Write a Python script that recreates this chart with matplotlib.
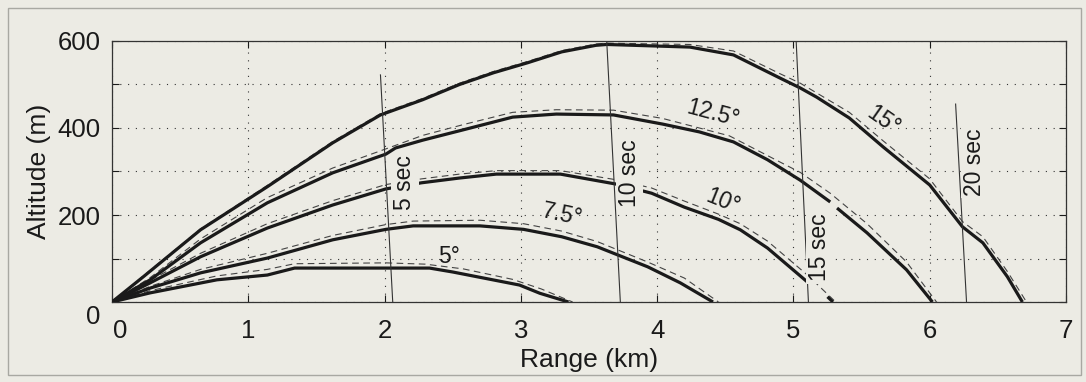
import numpy as np
import matplotlib
matplotlib.use('Agg')
import matplotlib.pyplot as plt
import matplotlib.transforms as mtransforms
from matplotlib.patches import Rectangle

plt.rcParams['font.family'] = ['Liberation Sans', 'DejaVu Sans']

BG = '#ecebe4'
INK = '#1a1a1a'
nan = np.nan

# ── trajectories (range km, altitude m), NaN = break in the printed line ──
x_5 = [0, 0.28, 0.77, 1.14, 1.34, 2.01, 2.33, 2.50, 2.99, 3.14, 3.35]
y_5 = [0, 21, 51, 62, 78, 78, 78, 69, 39, 20, 0]
x_5d = [0, 0.28, 0.77, 1.14, 1.34, 2.01, 2.30, 2.58, 2.94, 3.15, 3.38]
y_5d = [0, 26, 60, 75, 88, 90, 87, 76, 52, 30, 0]

x_75 = [0, 0.28, 0.65, 1.14, 1.62, 2.01, 2.21, 2.70, 3.02, 3.30, 3.56, 3.93, 4.17, 4.41]
y_75 = [0, 32, 67, 101, 143, 167, 175, 175, 167, 150, 127, 81, 44, 0]
x_75d = [0, 0.28, 0.65, 1.14, 1.62, 2.01, 2.21, 2.70, 3.02, 3.30, 3.56, 3.93, 4.20, 4.45]
y_75d = [0, 36, 75, 112, 153, 178, 186, 188, 180, 163, 139, 92, 55, 0]

x_10 = [0, 0.28, 0.65, 1.14, 1.62, 2.01, 2.27, 2.55, 2.82, 3.29, 3.70, 3.96, 4.20, 4.45, 4.61, 4.81, 5.11, nan, 5.25, 5.29]
y_10 = [0, 44, 104, 170, 223, 260, 274, 285, 294, 294, 271, 250, 218, 190, 166, 124, 44, nan, 12, 0]
x_10d = [0, 0.28, 0.65, 1.14, 1.62, 2.01, 2.27, 2.55, 2.82, 3.29, 3.70, 3.96, 4.20, 4.45, 4.61, 4.81, 5.11, 5.31]
y_10d = [0, 50, 112, 180, 233, 270, 283, 294, 302, 302, 281, 262, 232, 202, 180, 140, 60, 0]

x_125 = [0, 0.28, 0.65, 1.14, 1.62, 2.01, 2.08, 2.28, 2.58, 2.94, 3.26, 3.68, 4.04, 4.31, 4.56, 4.81, 5.05, 5.27, nan, 5.32, 5.54, 5.83, 6.02]
y_125 = [0, 51, 136, 228, 297, 340, 354, 372, 396, 425, 432, 430, 409, 391, 368, 327, 280, 230, nan, 216, 159, 74, 0]
x_125d = [0, 0.28, 0.65, 1.14, 1.62, 2.01, 2.28, 2.58, 2.94, 3.26, 3.68, 4.04, 4.53, 4.90, 5.05, 5.27, 5.54, 5.83, 6.05]
y_125d = [0, 56, 145, 240, 308, 352, 383, 408, 436, 442, 441, 422, 382, 322, 298, 250, 180, 92, 0]

x_15 = [0, 0.23, 0.65, 1.14, 1.62, 1.97, 2.28, 2.55, 2.80, 3.05, 3.30, 3.55, 3.63, 4.24, 4.56, 4.90, 5.05, 5.17, 5.41, 5.66, 6.00, 6.24, 6.39, 6.57, 6.68]
y_15 = [0, 58, 166, 265, 366, 430, 465, 500, 527, 550, 575, 590, 592, 586, 568, 515, 492, 471, 423, 356, 269, 173, 136, 58, 0]
x_15d = [0, 0.23, 0.65, 1.14, 1.62, 1.97, 2.28, 2.55, 2.80, 3.05, 3.30, 3.55, 3.63, 4.24, 4.56, 4.90, 5.05, 5.41, 5.66, 6.00, 6.24, 6.39, 6.57, 6.71]
y_15d = [0, 60, 168, 268, 369, 433, 468, 503, 530, 553, 578, 593, 595, 592, 577, 525, 503, 436, 370, 283, 185, 150, 70, 0]

# ── time-of-flight lines ──
t_labels = ['5 sec', '10 sec', '15 sec', '20 sec']
t_x = [[1.97, 2.06], [3.63, 3.73], [5.02, 5.11], [6.19, 6.27]]
t_y = [[522, 0], [600, 0], [600, 0], [455, 0]]
t_lab_x = [2.15, 3.80, 5.19, 6.33]
t_lab_y = [274, 296, 125, 321]

angle_labels = ['5°', '7.5°', '10°', '12.5°', '15°']
angle_lab_x = [2.47, 3.30, 4.48, 4.41, 5.66]
angle_lab_y = [104, 200, 230, 434, 418]
angle_lab_rot = [0, -12, -22, -15, -35]

fig = plt.figure(figsize=(10.86, 3.82), dpi=100, facecolor=BG)
ax = fig.add_axes([0.1031, 0.2094, 0.8785, 0.6833], facecolor=BG)

fig.patches.append(Rectangle((0.007, 0.018), 0.988, 0.962, transform=fig.transFigure,
                             fill=False, edgecolor='#a8a8a2', linewidth=1.0))

solid = [(x_5, y_5), (x_75, y_75), (x_10, y_10), (x_125, y_125), (x_15, y_15)]
dashed = [(x_5d, y_5d), (x_75d, y_75d), (x_10d, y_10d), (x_125d, y_125d), (x_15d, y_15d)]

for xs, ys in dashed:
    ax.plot(xs, ys, color='#444444', lw=0.8, ls=(0, (6, 4)), zorder=2)
for xs, ys in solid:
    ax.plot(xs, ys, color=INK, lw=2.3, solid_capstyle='butt', zorder=3)

for xs, ys in zip(t_x, t_y):
    ax.plot(xs, ys, color='#333333', lw=0.8, zorder=4)

for lab, lx, ly in zip(t_labels, t_lab_x, t_lab_y):
    ax.text(lx, ly, lab, rotation=90, ha='center', va='center', fontsize=16.5,
            color=INK, zorder=5,
            bbox=dict(facecolor=BG, edgecolor='none', pad=1.5))

for lab, lx, ly, rot in zip(angle_labels, angle_lab_x, angle_lab_y, angle_lab_rot):
    ax.text(lx, ly, lab, rotation=rot, rotation_mode='anchor', ha='center', va='center',
            fontsize=16.5, color=INK, zorder=5)

ax.set_xlim(0, 7)
ax.set_ylim(0, 600)
ax.set_xticks(range(0, 8))
ax.set_yticks(range(0, 601, 100))
ax.set_yticklabels(['0', '', '200', '', '400', '', '600'])
ax.grid(True, color='#333333', lw=0.8, ls=(0, (1, 6)))
ax.tick_params(direction='in', top=True, right=True, length=5, width=0.8,
               labelsize=18.5, colors=INK)
ax.tick_params(axis='x', pad=12)
ax.tick_params(axis='y', pad=8)
for s in ax.spines.values():
    s.set_linewidth(0.9)
    s.set_color('#333333')

# the two zero labels sit apart from the corner in the original
fig.canvas.draw()
ax.get_yticklabels()[0].set_transform(ax.get_yticklabels()[0].get_transform() +
                                      mtransforms.ScaledTranslation(0, -9 / 72, fig.dpi_scale_trans))
ax.get_xticklabels()[0].set_transform(ax.get_xticklabels()[0].get_transform() +
                                      mtransforms.ScaledTranslation(6 / 72, 0, fig.dpi_scale_trans))

ax.set_xlabel('Range (km)', fontsize=19, color=INK, labelpad=4)
ax.set_ylabel('Altitude (m)', fontsize=19, color=INK, labelpad=5)

fig.savefig('out.png', dpi=100, facecolor=BG)
